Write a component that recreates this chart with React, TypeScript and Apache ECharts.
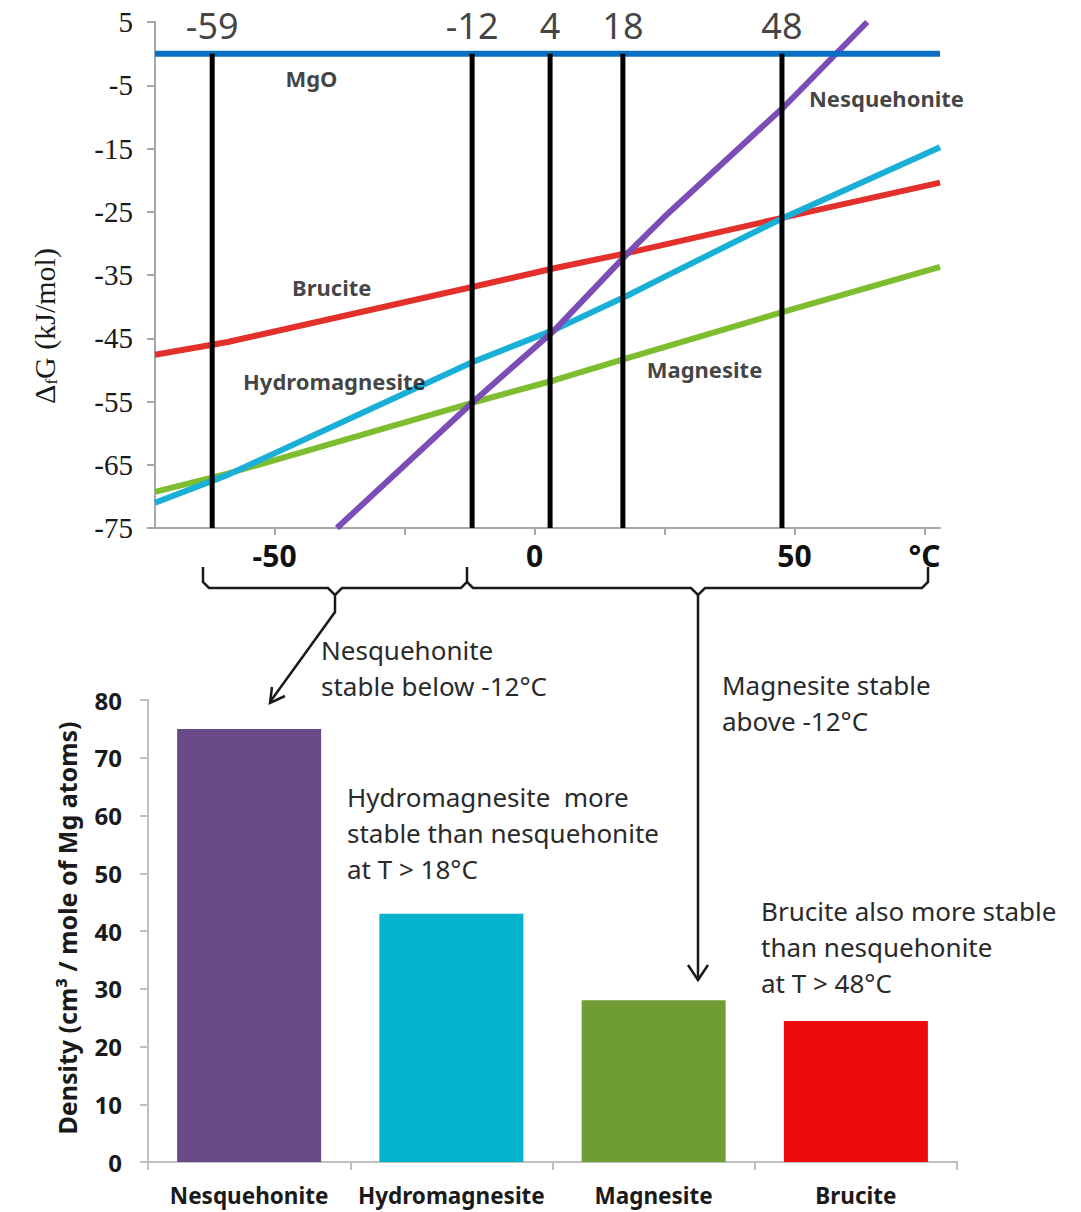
import React, { useEffect, useRef } from 'react';
import * as echarts from 'echarts';

// ---------- Top chart data (temperature °C, ΔfG kJ/mol) ----------
const mgoT = [-73, 78];
const mgoG = [0, 0];
const bruciteT = [-73, -59, -12, 4, 18, 48, 78];
const bruciteG = [-47.6, -45.6, -36.9, -33.9, -31.5, -25.9, -20.4];
const hydroT = [-73, -59, -12, 4, 18, 25, 48, 78];
const hydroG = [-71.0, -66.6, -48.8, -43.6, -38.2, -35.3, -25.9, -14.8];
const magnesiteT = [-73, -59, -12, 4, 18, 48, 78];
const magnesiteG = [-69.3, -66.4, -55.2, -51.6, -48.1, -40.8, -33.7];
const nesqT = [-38, -12, 4, 18, 25, 48, 64];
const nesqG = [-75, -55.2, -43.6, -31.5, -25.8, -8.4, 5];

// transition lines (position as drawn, label as printed)
const transitionT = [-62, -12, 3, 17, 47.6];
const transitionLabels = ['-59', '-12', '4', '18', '48'];

// curve name labels
const curveNames = ['MgO', 'Nesquehonite', 'Brucite', 'Hydromagnesite', 'Magnesite'];
const curveNameT = [-42.9, 67.7, -39, -38.5, 32.7];
const curveNameG = [-3.9, -7.0, -36.9, -51.8, -49.9];

const xTickValues = [-50, -25, 0, 25, 50, 75];
const xLabelValues = [-50, 0, 50, 75];

// ---------- Bottom chart data ----------
const minerals = ['Nesquehonite', 'Hydromagnesite', 'Magnesite', 'Brucite'];
const density = [75, 43, 28, 24.4];
const barColors = ['#674A87', '#05B3CD', '#6F9C33', '#EE0B0B'];

const zip = (xs: number[], ys: number[]) => xs.map((x, i) => [x, ys[i]]);

const sans = 'Noto Sans';
const ink = { stroke: '#1a1a1a', lineWidth: 2.5, fill: null as any };

function buildOption() {
  const curve = (name: string, t: number[], g: number[], color: string) => ({
    type: 'line',
    name,
    xAxisIndex: 0,
    yAxisIndex: 0,
    data: zip(t, g),
    symbol: 'none',
    lineStyle: { color, width: 6 },
    z: 3,
  });

  const verticals = transitionT.map((t) => ({
    type: 'line',
    xAxisIndex: 0,
    yAxisIndex: 0,
    data: [[t, 0], [t, -75]],
    symbol: 'none',
    lineStyle: { color: '#000', width: 5 },
    z: 4,
    silent: true,
  }));

  return {
    animation: false,
    backgroundColor: '#ffffff',
    grid: [
      { left: 155, top: 22, width: 785, height: 506 },
      { left: 148, top: 700, width: 809, height: 462 },
    ],
    xAxis: [
      {
        gridIndex: 0,
        type: 'value',
        min: -73,
        max: 78,
        axisLine: { show: true, onZero: false, lineStyle: { color: '#A6A6A6', width: 2 } },
        axisTick: { show: true, customValues: xTickValues, length: 7, lineStyle: { color: '#A6A6A6', width: 2 } },
        axisLabel: {
          customValues: xLabelValues,
          formatter: (v: number) => (v === 75 ? '°C' : String(v)),
          fontFamily: sans,
          fontWeight: 'bold',
          fontSize: 30,
          color: '#111',
          margin: 12,
        },
        splitLine: { show: false },
      },
      {
        gridIndex: 1,
        type: 'category',
        data: minerals,
        axisLine: { show: true, lineStyle: { color: '#BFBFBF', width: 2 } },
        axisTick: { show: true, alignWithLabel: false, length: 8, lineStyle: { color: '#BFBFBF', width: 2 } },
        axisLabel: { interval: 0, fontFamily: sans, fontWeight: 'bold', fontSize: 22.5, color: '#1a1a1a', margin: 22 },
      },
    ],
    yAxis: [
      {
        gridIndex: 0,
        type: 'value',
        min: -75,
        max: 5,
        interval: 10,
        axisLine: { show: true, onZero: false, lineStyle: { color: '#A6A6A6', width: 2 } },
        axisTick: { show: true, length: 8, lineStyle: { color: '#A6A6A6', width: 2 } },
        axisLabel: { fontFamily: 'Liberation Serif', fontSize: 29, color: '#1a1a1a', margin: 22 },
        splitLine: { show: false },
      },
      {
        gridIndex: 1,
        type: 'value',
        min: 0,
        max: 80,
        interval: 10,
        axisLine: { show: true, lineStyle: { color: '#BFBFBF', width: 2 } },
        axisTick: { show: true, length: 8, lineStyle: { color: '#BFBFBF', width: 2 } },
        axisLabel: { fontFamily: sans, fontWeight: 'bold', fontSize: 24, color: '#1a1a1a', margin: 26 },
        splitLine: { show: false },
      },
    ],
    series: [
      curve('Brucite', bruciteT, bruciteG, '#E3302B'),
      curve('Magnesite', magnesiteT, magnesiteG, '#7EBD2F'),
      curve('Hydromagnesite', hydroT, hydroG, '#19AFD7'),
      curve('Nesquehonite', nesqT, nesqG, '#7C4DB7'),
      ...verticals,
      curve('MgO', mgoT, mgoG, '#0A6FC2'),
      {
        type: 'scatter',
        xAxisIndex: 0,
        yAxisIndex: 0,
        data: transitionT.map((t, i) => ({ value: [t, 0], name: transitionLabels[i] })),
        symbolSize: 1,
        itemStyle: { color: 'transparent' },
        silent: true,
        z: 6,
        label: {
          show: true,
          position: 'top',
          distance: 10,
          formatter: (p: any) => p.name,
          fontFamily: sans,
          fontSize: 36,
          color: '#111',
        },
      },
      {
        type: 'scatter',
        xAxisIndex: 0,
        yAxisIndex: 0,
        data: curveNames.map((n, i) => ({ value: [curveNameT[i], curveNameG[i]], name: n })),
        symbolSize: 1,
        itemStyle: { color: 'transparent' },
        silent: true,
        z: 6,
        label: {
          show: true,
          position: 'inside',
          formatter: (p: any) => p.name,
          fontFamily: sans,
          fontWeight: 'bold',
          fontSize: 22,
          color: '#111',
        },
      },
      {
        type: 'bar',
        xAxisIndex: 1,
        yAxisIndex: 1,
        barWidth: 144,
        data: density.map((v, i) => ({ value: v, itemStyle: { color: barColors[i] } })),
      },
    ],
    graphic: [
      // y-axis titles
      {
        type: 'text',
        x: 44,
        y: 326,
        rotation: Math.PI / 2,
        style: {
          text: '{a|Δ}{s|f}{a|G (kJ/mol)}',
          align: 'center',
          verticalAlign: 'middle',
          fill: '#1a1a1a',
          rich: {
            a: { fontFamily: 'Liberation Serif', fontSize: 30, fill: '#1a1a1a' },
            s: { fontFamily: 'Liberation Serif', fontSize: 17, fill: '#1a1a1a', padding: [14, 0, 0, 0] },
          },
        },
      },
      {
        type: 'text',
        x: 67,
        y: 928,
        rotation: Math.PI / 2,
        style: {
          text: 'Density (cm³ / mole of Mg atoms)',
          align: 'center',
          verticalAlign: 'middle',
          fontFamily: sans,
          fontWeight: 'bold',
          fontSize: 25,
          fill: '#1a1a1a',
        },
      },
      // braces
      {
        type: 'polyline',
        shape: { points: [[203, 567], [203, 582], [209, 588], [328, 588], [335, 595], [342, 588], [461, 588], [467, 582], [467, 567]] },
        style: ink,
      },
      {
        type: 'polyline',
        shape: { points: [[467, 582], [473, 588], [691, 588], [698, 595], [705, 588], [922, 588], [928, 582], [928, 567]] },
        style: ink,
      },
      // arrows
      { type: 'polyline', shape: { points: [[335, 595], [335, 612], [270, 702]] }, style: ink },
      { type: 'polyline', shape: { points: [[285, 696], [270, 703], [272, 687]] }, style: ink },
      { type: 'polyline', shape: { points: [[698, 595], [698, 980]] }, style: ink },
      { type: 'polyline', shape: { points: [[688, 965], [698, 980], [708, 965]] }, style: ink },
      // annotations
      ...[
        { text: 'Nesquehonite\nstable below -12°C', x: 321, y: 632 },
        { text: 'Magnesite stable\nabove -12°C', x: 722, y: 667 },
        { text: 'Hydromagnesite  more\nstable than nesquehonite\nat T > 18°C', x: 347, y: 779 },
        { text: 'Brucite also more stable\nthan nesquehonite\nat T > 48°C', x: 761, y: 893 },
      ].map((a) => ({
        type: 'text',
        x: a.x,
        y: a.y,
        style: {
          text: a.text,
          fontFamily: sans,
          fontSize: 26,
          lineHeight: 36,
          fill: '#2a2a2a',
          align: 'left',
          verticalAlign: 'top',
        },
      })),
    ],
  };
}

export default function App() {
  const ref = useRef<HTMLDivElement>(null);
  useEffect(() => {
    const chart = echarts.init(ref.current!, null, { renderer: 'svg' });
    chart.setOption(buildOption() as any);
    return () => chart.dispose();
  }, []);
  return (
    <div
      ref={ref}
      style={{ position: 'absolute', left: 0, top: 0, width: 1081, height: 1212, background: '#fff' }}
    />
  );
}
